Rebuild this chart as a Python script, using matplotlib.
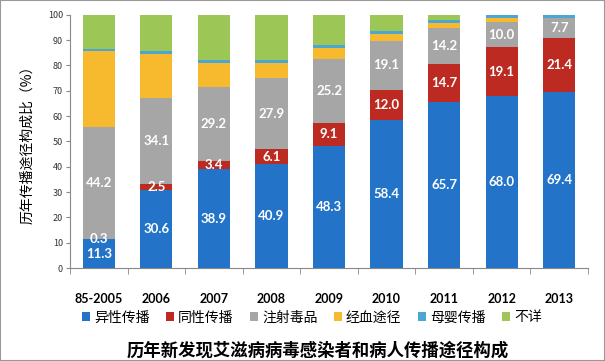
import numpy as np
import matplotlib.pyplot as plt
from matplotlib.patches import Rectangle

plt.rcParams['font.family'] = ['Noto Sans CJK SC', 'DejaVu Sans']

# 年份与各传播途径构成比（%）
years = ['85-2005', '2006', '2007', '2008', '2009', '2010', '2011', '2012', '2013']
hetero = [11.3, 30.6, 38.9, 40.9, 48.3, 58.4, 65.7, 68.0, 69.4]
homo = [0.3, 2.5, 3.4, 6.1, 9.1, 12.0, 14.7, 19.1, 21.4]
idu = [44.2, 34.1, 29.2, 27.9, 25.2, 19.1, 14.2, 10.0, 7.7]
blood = [29.8, 17.1, 9.3, 6.1, 4.1, 2.9, 2.1, 1.7, 0.2]
mother = [0.9, 1.5, 1.3, 1.3, 1.5, 1.3, 1.4, 1.2, 1.3]
unknown = [13.5, 14.2, 17.9, 17.7, 11.8, 6.3, 1.9, 0.0, 0.0]

names = ['异性传播', '同性传播', '注射毒品', '经血途径', '母婴传播', '不详']
colors = ['#2373c8', '#bd2a22', '#a6a6a6', '#f7b92e', '#4aa6d2', '#9cc655']
series = [hetero, homo, idu, blood, mother, unknown]
labelled = 3  # 只标注前三类

fig = plt.figure(figsize=(6.05, 3.61), dpi=100)
ax = fig.add_axes([70 / 605, 1 - 268 / 361, 518 / 605, 253.3 / 361])

x = np.arange(len(years))
bottom = np.zeros(len(years))
for i, (vals, name, c) in enumerate(zip(series, names, colors)):
    vals = np.array(vals)
    ax.bar(x, vals, 0.56, bottom=bottom, color=c, label=name, linewidth=0)
    if i < labelled:
        for xi, b, v in zip(x, bottom, vals):
            ax.text(xi, b + v / 2, f'{v:.1f}', ha='center', va='center',
                    color='white', fontsize=9.5, fontweight='bold', family=['Lato', 'DejaVu Sans'])
    bottom = bottom + vals

ax.set_xlim(-0.5, len(years) - 0.5)
ax.set_ylim(0, 100)
ax.set_yticks(range(0, 101, 10))
ax.tick_params(axis='y', labelsize=6.5, length=3, color='#888888', labelcolor='#333333', pad=2)
ax.set_xticks(x)
ax.set_xticklabels(years, fontsize=9, fontweight='bold', family=['Lato', 'DejaVu Sans'])
ax.set_xticks(np.arange(-0.5, len(years)), minor=True)
ax.tick_params(axis='x', which='major', length=0, pad=18)
ax.tick_params(axis='x', which='minor', length=4, color='#888888')
for s in ['top', 'right']:
    ax.spines[s].set_visible(False)
for s in ['left', 'bottom']:
    ax.spines[s].set_color('#888888')
    ax.spines[s].set_linewidth(0.8)

ax.set_ylabel('历年传播途径构成比（%）', fontsize=10, labelpad=10)

fig.legend(loc='center', bbox_to_anchor=(312 / 605, 1 - 317.5 / 361), ncol=6,
           frameon=False, fontsize=10, handlelength=0.55, handleheight=0.55,
           handletextpad=0.3, columnspacing=1.2)
fig.text(318 / 605, 1 - 351 / 361, '历年新发现艾滋病病毒感染者和病人传播途径构成',
         ha='center', va='center', fontsize=12.5, fontweight='bold')

fig.patches.append(Rectangle((0, 0), 1, 1, transform=fig.transFigure, fill=False,
                             edgecolor='#999999', linewidth=1.5))

fig.savefig('out.png', dpi=100)
